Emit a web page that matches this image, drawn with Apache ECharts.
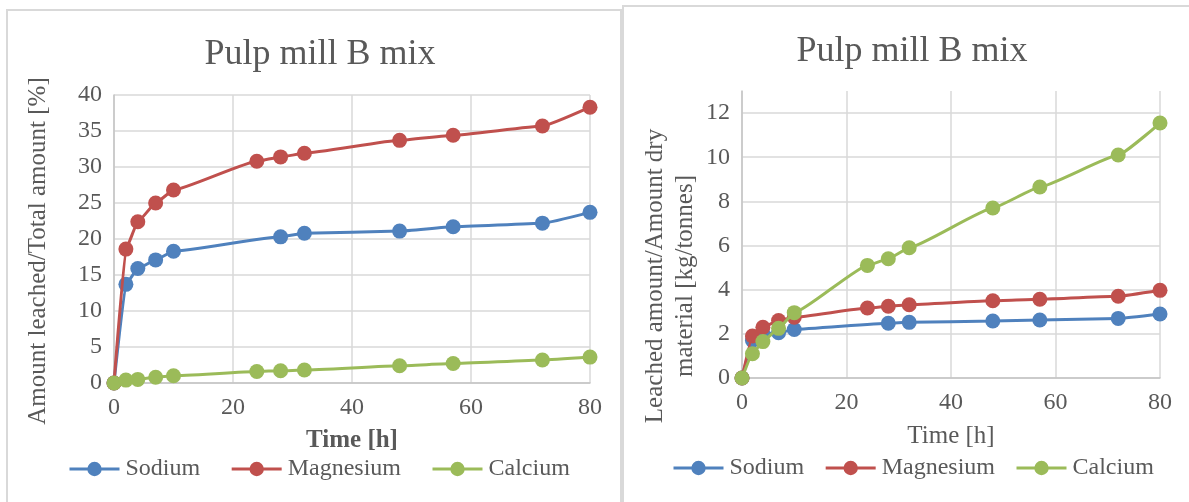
<!DOCTYPE html>
<html>
<head>
<meta charset="utf-8">
<title>Pulp mill B mix</title>
<script src="https://cdn.jsdelivr.net/npm/echarts@6/dist/echarts.min.js"></script>
<style>
  html, body { margin: 0; padding: 0; background: #ffffff; }
  #chart { width: 1189px; height: 502px; }
</style>
</head>
<body>
<div id="chart"></div>
<script>
// Sampling times [h]
const timesAll = [0, 2, 4, 7, 10, 24, 28, 32, 48, 57, 72, 80];
const timesSodium = [0, 2, 4, 7, 10, 28, 32, 48, 57, 72, 80];

// Share of total amount leached [%]
const pctSodium    = [0, 13.7, 15.9, 17.1, 18.3, 20.3, 20.8, 21.1, 21.7, 22.2, 23.7];
const pctMagnesium = [0, 18.6, 22.4, 25.0, 26.8, 30.8, 31.4, 31.9, 33.7, 34.4, 35.7, 38.3];
const pctCalcium   = [0, 0.4, 0.5, 0.8, 1.0, 1.6, 1.7, 1.8, 2.4, 2.7, 3.2, 3.6];

// Leached amount per dry material [kg/tonnes]
const kgSodium    = [0, 1.7, 2.0, 2.05, 2.2, 2.48, 2.52, 2.58, 2.63, 2.7, 2.9];
const kgMagnesium = [0, 1.9, 2.3, 2.6, 2.75, 3.17, 3.25, 3.32, 3.5, 3.57, 3.7, 3.97];
const kgCalcium   = [0, 1.1, 1.65, 2.25, 2.96, 5.1, 5.4, 5.9, 7.7, 8.65, 10.1, 11.55];

const seriesNames = ['Sodium', 'Magnesium', 'Calcium'];
const seriesColors = ['#4F81BD', '#C0504D', '#9BBB59'];

const pair = (xs, ys) => ys.map((y, i) => [xs[i], y]);

const FONT = '"Liberation Serif", "Times New Roman", serif';
const TEXT = '#595959';
const GRID = '#d9d9d9';
const AXIS = '#c4c4c4';

function lineSeries(name, idx, data, axisIndex) {
  return {
    name: name,
    type: 'line',
    xAxisIndex: axisIndex,
    yAxisIndex: axisIndex,
    data: data,
    smooth: 0.12,
    smoothMonotone: 'x',
    symbol: 'circle',
    symbolSize: 15,
    lineStyle: { width: 3, color: seriesColors[idx] },
    itemStyle: { color: seriesColors[idx] },
    z: 2 + idx,
    animation: false
  };
}

function xAxisDef(gridIndex, bold, nameGap) {
  return {
    gridIndex: gridIndex,
    type: 'value',
    min: 0, max: 80, interval: 20,
    name: 'Time [h]',
    nameLocation: 'middle',
    nameGap: nameGap,
    nameTextStyle: { fontFamily: FONT, fontSize: 25, color: TEXT, fontWeight: bold ? 'bold' : 'normal' },
    axisLine: { show: true, lineStyle: { color: AXIS, width: 1.5 } },
    axisTick: { show: false },
    axisLabel: { fontFamily: FONT, fontSize: 24, color: TEXT, margin: 13 },
    splitLine: { show: true, lineStyle: { color: GRID, width: 1.5 } }
  };
}

function yAxisDef(gridIndex, max, interval) {
  return {
    gridIndex: gridIndex,
    type: 'value',
    min: 0, max: max, interval: interval,
    axisLine: { show: true, lineStyle: { color: AXIS, width: 1.5 } },
    axisTick: { show: false },
    axisLabel: {
      fontFamily: FONT, fontSize: 24, color: TEXT, margin: 12,
      showMaxLabel: max % interval === 0
    },
    splitLine: {
      show: true, lineStyle: { color: GRID, width: 1.5 },
      showMaxLine: max % interval === 0
    }
  };
}

function legendDef(left, top, gap) {
  return {
    data: seriesNames,
    left: left,
    top: top,
    padding: 0,
    orient: 'horizontal',
    itemWidth: 50,
    itemHeight: 18,
    itemGap: gap,
    selectedMode: false,
    lineStyle: { width: 3 },
    textStyle: { fontFamily: FONT, fontSize: 24, color: TEXT, padding: [0, 0, 0, 1] }
  };
}

const chart = echarts.init(document.getElementById('chart'), null, { renderer: 'canvas' });

const option = {
  backgroundColor: '#ffffff',
  animation: false,
  title: [
    { text: 'Pulp mill B mix', left: 315, top: 32, textAlign: 'center',
      textStyle: { fontFamily: FONT, fontSize: 36, fontWeight: 'normal', color: TEXT } },
    { text: 'Pulp mill B mix', left: 907, top: 29, textAlign: 'center',
      textStyle: { fontFamily: FONT, fontSize: 36, fontWeight: 'normal', color: TEXT } }
  ],
  grid: [
    { left: 114, right: 599, top: 95, bottom: 119, containLabel: false },
    { left: 742, right: 29, top: 91, bottom: 124, containLabel: false }
  ],
  xAxis: [xAxisDef(0, true, 45), xAxisDef(1, false, 46)],
  yAxis: [yAxisDef(0, 40, 5), yAxisDef(1, 13, 2)],
  legend: [legendDef(68, 457, 30), legendDef(672, 456, 20)],
  graphic: [
    // panel frames
    { type: 'rect', shape: { x: 7, y: 10, width: 614, height: 520 },
      style: { fill: null, stroke: '#d9d9d9', lineWidth: 2 }, silent: true, z: -10 },
    { type: 'rect', shape: { x: 623, y: 6, width: 600, height: 520 },
      style: { fill: null, stroke: '#d9d9d9', lineWidth: 2 }, silent: true, z: -10 },
    // y-axis titles
    { type: 'text', x: 38, y: 251, rotation: Math.PI / 2,
      style: { text: 'Amount leached/Total amount [%]', font: '25px ' + FONT, fill: TEXT,
               textAlign: 'center', textVerticalAlign: 'middle' } },
    { type: 'text', x: 670, y: 276, rotation: Math.PI / 2,
      style: { text: 'Leached amount/Amount dry\nmaterial [kg/tonnes]', font: '25px ' + FONT, fill: TEXT,
               textAlign: 'center', textVerticalAlign: 'middle', lineHeight: 30 } }
  ],
  series: [
    lineSeries('Sodium', 0, pair(timesSodium, pctSodium), 0),
    lineSeries('Magnesium', 1, pair(timesAll, pctMagnesium), 0),
    lineSeries('Calcium', 2, pair(timesAll, pctCalcium), 0),
    lineSeries('Sodium', 0, pair(timesSodium, kgSodium), 1),
    lineSeries('Magnesium', 1, pair(timesAll, kgMagnesium), 1),
    lineSeries('Calcium', 2, pair(timesAll, kgCalcium), 1)
  ]
};

chart.setOption(option);
</script>
</body>
</html>
